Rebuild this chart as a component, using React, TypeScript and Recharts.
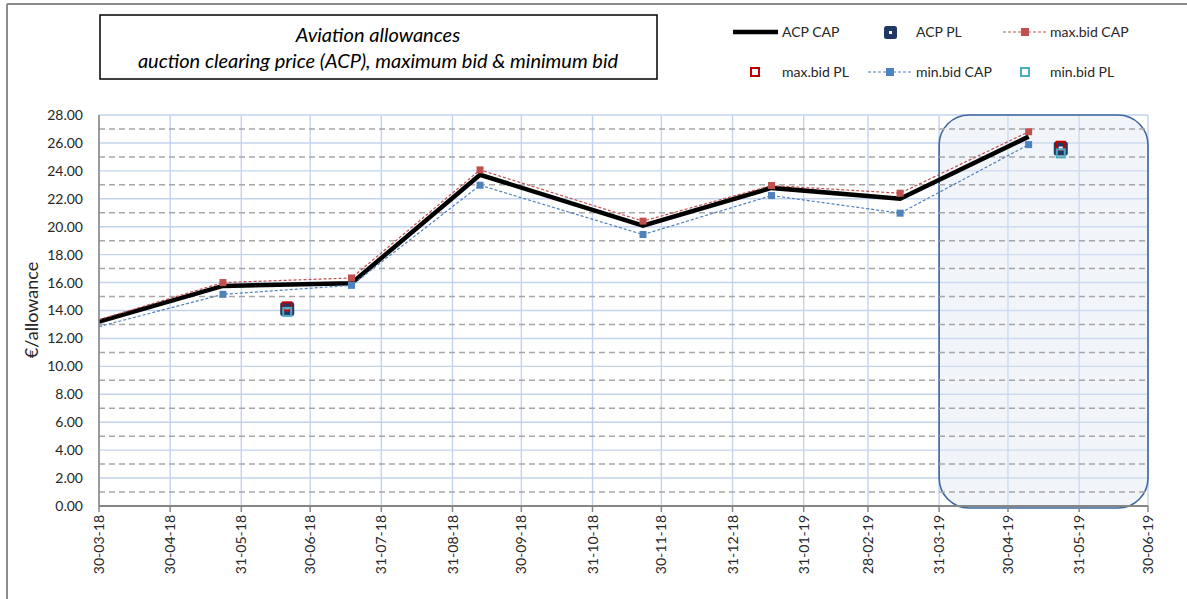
import React from "react";
import {
  ComposedChart,
  Line,
  XAxis,
  YAxis,
  CartesianGrid,
  ReferenceLine,
  ReferenceArea,
} from "recharts";

// CAP auctions (dates)
const capDates = [
  "2018-03-30",
  "2018-05-23",
  "2018-07-18",
  "2018-09-12",
  "2018-11-22",
  "2019-01-17",
  "2019-03-14",
  "2019-05-09",
];
const acpCap = [13.2, 15.76, 15.95, 23.72, 20.08, 22.78, 22.0, 26.45];
const maxBidCap = [13.35, 16.0, 16.33, 24.07, 20.4, 22.95, 22.4, 26.8];
const minBidCap = [12.85, 15.16, 15.8, 22.97, 19.44, 22.23, 20.97, 25.88];

// PL auctions
const plDates = ["2018-06-20", "2019-05-23"];
const acpPl = [14.1, 25.6];
const maxBidPl = [14.3, 25.8];
const minBidPl = [13.9, 25.25];

const xTickLabels = [
  "30-03-18", "30-04-18", "31-05-18", "30-06-18", "31-07-18", "31-08-18",
  "30-09-18", "31-10-18", "30-11-18", "31-12-18", "31-01-19", "28-02-19",
  "31-03-19", "30-04-19", "31-05-19", "30-06-19",
];
const yTicks = [0, 2, 4, 6, 8, 10, 12, 14, 16, 18, 20, 22, 24, 26, 28];
const minorTicks = [1, 3, 5, 7, 9, 11, 13, 15, 17, 19, 21, 23, 25, 27];
const highlight = ["31-03-19", "30-06-19"];

const FONT = "Lato, 'Liberation Sans', sans-serif";

const isoToTime = (s: string) => Date.parse(s + "T00:00:00Z");
const labelToTime = (s: string) => {
  const [d, m, y] = s.split("-").map(Number);
  return Date.UTC(2000 + y, m - 1, d);
};

const capData = capDates.map((d, i) => ({
  t: isoToTime(d),
  acp: acpCap[i],
  max: maxBidCap[i],
  min: minBidCap[i],
}));
const plData = plDates.map((d, i) => ({
  t: isoToTime(d),
  acp: acpPl[i],
  max: maxBidPl[i],
  min: minBidPl[i],
}));
const xTicks = xTickLabels.map(labelToTime);
const tickText: Record<number, string> = {};
xTickLabels.forEach((l) => (tickText[labelToTime(l)] = l));

const squareDot = (color: string, size: number) => (p: any) => {
  if (p.index === 0 || p.cx == null || p.cy == null) return <g key={`e-${p.index}`} />;
  return (
    <rect
      key={`s-${p.index}`}
      x={p.cx - size / 2}
      y={p.cy - size / 2}
      width={size}
      height={size}
      fill={color}
    />
  );
};

const navyDot = (p: any) => (
  <g key={`n-${p.index}`}>
    <rect x={p.cx - 7} y={p.cy - 7} width={14} height={14} rx={2.5} fill="#1f3864" />
    <rect x={p.cx - 2} y={p.cy - 2} width={4} height={4} fill="#ffffff" />
  </g>
);

const hollowDot = (color: string) => (p: any) => (
  <rect
    key={`h-${p.index}`}
    x={p.cx - 4}
    y={p.cy - 4}
    width={8}
    height={8}
    fill="none"
    stroke={color}
    strokeWidth={2}
  />
);

const XTick = ({ x, y, payload }: any) => (
  <g transform={`translate(${x},${y})`}>
    <text
      transform="rotate(-90)"
      textAnchor="end"
      dy="0.36em"
      fontSize={14}
      fontFamily={FONT}
      fill="#262626"
    >
      {tickText[payload.value]}
    </text>
  </g>
);

const RoundedBox = ({ x, y, width, height }: any) => (
  <rect
    x={x}
    y={y}
    width={width}
    height={height + 2}
    rx={30}
    ry={30}
    fill="#dbe5f3"
    fillOpacity={0.4}
    stroke="#3d679d"
    strokeWidth={1.6}
  />
);

function Overlay() {
  const txt = { fontFamily: FONT, fontSize: 14, fill: "#262626" };
  return (
    <svg
      width={1187}
      height={599}
      style={{ position: "absolute", left: 0, top: 0, pointerEvents: "none" }}
    >
      <line x1={7} y1={4} x2={1187} y2={4} stroke="#8c8c8c" strokeWidth={2} />
      <line x1={7} y1={4} x2={7} y2={599} stroke="#8c8c8c" strokeWidth={2} />
      <rect x={100} y={15} width={557} height={64} fill="#fff" stroke="#000" strokeWidth={1.5} />
      <text x={378} y={42} textAnchor="middle" fontFamily={FONT} fontStyle="italic" fontSize={20} fill="#000">
        Aviation allowances
      </text>
      <text x={378} y={68} textAnchor="middle" fontFamily={FONT} fontStyle="italic" fontSize={20} fill="#000">
        auction clearing price (ACP), maximum bid &amp; minimum bid
      </text>
      <text
        transform="translate(38,310) rotate(-90)"
        textAnchor="middle"
        fontFamily={FONT}
        fontSize={18}
        fill="#262626"
      >
        €/allowance
      </text>

      {/* legend row 1 */}
      <line x1={733} y1={32} x2={778} y2={32} stroke="#000" strokeWidth={4.5} />
      <text x={782} y={37} {...txt}>ACP CAP</text>
      <rect x={884} y={26} width={13} height={13} rx={2.5} fill="#1f3864" />
      <rect x={889} y={31} width={3} height={3} fill="#fff" />
      <text x={916} y={37} {...txt}>ACP PL</text>
      <line x1={1003} y1={32} x2={1047} y2={32} stroke="#c0504d" strokeDasharray="3 2" strokeWidth={1.2} />
      <rect x={1021} y={28} width={8} height={8} fill="#c0504d" />
      <text x={1050} y={37} {...txt}>max.bid CAP</text>

      {/* legend row 2 */}
      <rect x={751} y={68} width={8} height={8} fill="none" stroke="#c00000" strokeWidth={2} />
      <text x={782} y={77} {...txt}>max.bid PL</text>
      <line x1={868} y1={72} x2={911} y2={72} stroke="#4f81bd" strokeDasharray="3 2" strokeWidth={1.2} />
      <rect x={886} y={68} width={8} height={8} fill="#4f81bd" />
      <text x={916} y={77} {...txt}>min.bid CAP</text>
      <rect x={1021} y={68} width={8} height={8} fill="none" stroke="#4bacc6" strokeWidth={2} />
      <text x={1050} y={77} {...txt}>min.bid PL</text>
    </svg>
  );
}

export default function App() {
  return (
    <div style={{ position: "relative", width: 1187, height: 599, background: "#fff" }}>
      <style>{"body{margin:0}"}</style>
      <ComposedChart
        width={1187}
        height={599}
        margin={{ top: 115, right: 39, bottom: 0, left: 0 }}
      >
        <CartesianGrid stroke="#c3d3ee" strokeWidth={1.4} />
        <ReferenceArea
          x1={labelToTime(highlight[0])}
          x2={labelToTime(highlight[1])}
          y1={0}
          y2={28}
          shape={<RoundedBox />}
        />
        {minorTicks.map((v) => (
          <ReferenceLine
            key={v}
            y={v}
            stroke="#a6a6a6"
            strokeDasharray="6 4"
            strokeWidth={1.5}
          />
        ))}
        <XAxis
          type="number"
          dataKey="t"
          domain={[xTicks[0], xTicks[xTicks.length - 1]]}
          ticks={xTicks}
          interval={0}
          height={93}
          tick={<XTick />}
          tickSize={6}
          tickMargin={3}
          axisLine={{ stroke: "#868686", strokeWidth: 2 }}
          tickLine={{ stroke: "#868686", strokeWidth: 1.5 }}
        />
        <YAxis
          type="number"
          domain={[0, 28]}
          ticks={yTicks}
          interval={0}
          width={99}
          tickFormatter={(v: number) => v.toFixed(2)}
          tick={{ fontSize: 14, fontFamily: FONT, fill: "#262626" }}
          tickSize={0}
          tickMargin={16}
          axisLine={{ stroke: "#868686", strokeWidth: 1.5 }}
        />
        <Line
          data={capData}
          dataKey="acp"
          stroke="#000"
          strokeWidth={4.5}
          dot={false}
          activeDot={false}
          isAnimationActive={false}
        />
        <Line
          data={capData}
          dataKey="max"
          stroke="#c0504d"
          strokeWidth={1.2}
          strokeDasharray="3 2"
          dot={squareDot("#c0504d", 7)}
          activeDot={false}
          isAnimationActive={false}
        />
        <Line
          data={capData}
          dataKey="min"
          stroke="#4f81bd"
          strokeWidth={1.2}
          strokeDasharray="3 2"
          dot={squareDot("#4f81bd", 7)}
          activeDot={false}
          isAnimationActive={false}
        />
        <Line
          data={plData}
          dataKey="acp"
          stroke="none"
          strokeWidth={0}
          dot={navyDot}
          activeDot={false}
          isAnimationActive={false}
        />
        <Line
          data={plData}
          dataKey="max"
          stroke="none"
          strokeWidth={0}
          dot={hollowDot("#c00000")}
          activeDot={false}
          isAnimationActive={false}
        />
        <Line
          data={plData}
          dataKey="min"
          stroke="none"
          strokeWidth={0}
          dot={hollowDot("#4bacc6")}
          activeDot={false}
          isAnimationActive={false}
        />
      </ComposedChart>
      <Overlay />
    </div>
  );
}
